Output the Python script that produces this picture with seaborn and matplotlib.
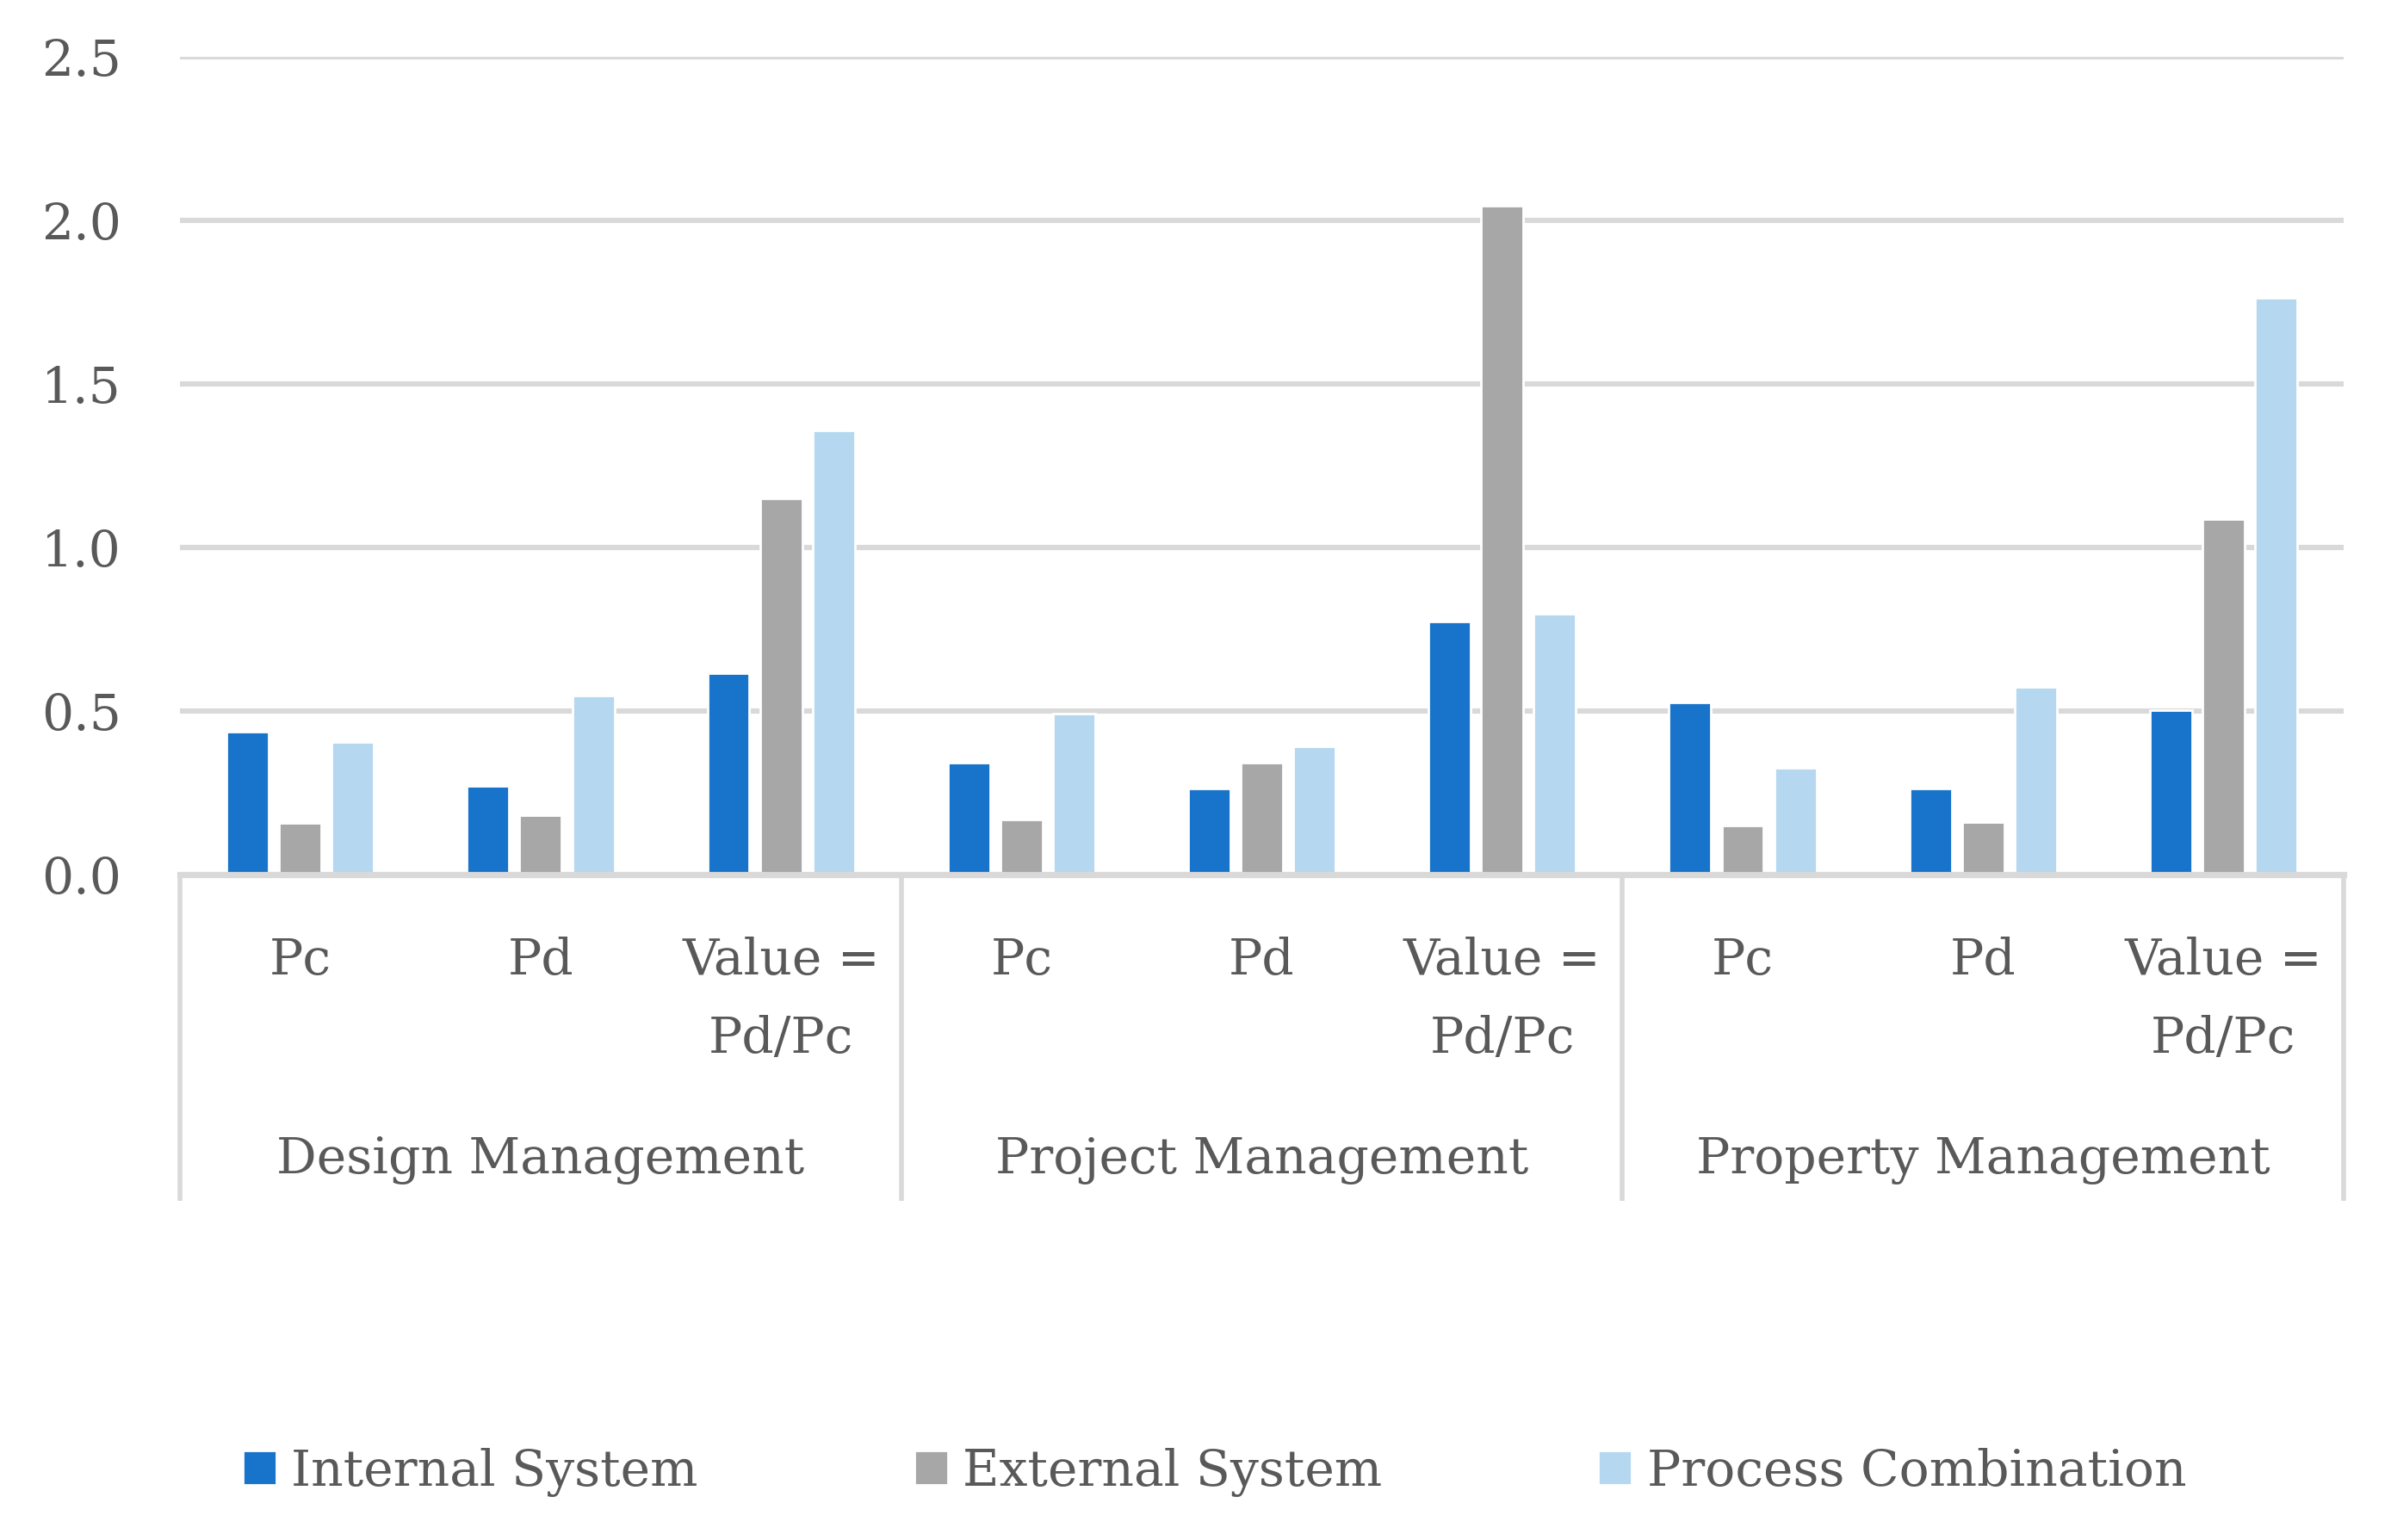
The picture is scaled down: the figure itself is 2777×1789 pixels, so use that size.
import pandas as pd
import seaborn as sns
import matplotlib.pyplot as plt
from matplotlib.ticker import FormatStrFormatter

# ===== data =====
groups = ["Design Management", "Project Management", "Property Management"]
metrics = ["Pc", "Pd", "Value =\nPd/Pc"]
series = ["Internal System", "External System", "Process Combination"]

internal_system = [0.438, 0.270, 0.617, 0.343, 0.264, 0.774, 0.527, 0.264, 0.503]
external_system = [0.157, 0.181, 1.151, 0.168, 0.343, 2.045, 0.149, 0.160, 1.087]
process_combination = [0.404, 0.548, 1.358, 0.491, 0.391, 0.798, 0.325, 0.574, 1.764]

y_ticks = [0.0, 0.5, 1.0, 1.5, 2.0, 2.5]
colors = ["#1874CA", "#A7A7A7", "#B5D8F0"]

# ===== long table for seaborn =====
slots = [f"{g}|{m}" for g in groups for m in metrics]
rows = []
for name, values in zip(series, [internal_system, external_system, process_combination]):
    for slot, v in zip(slots, values):
        rows.append({"slot": slot, "series": name, "value": v})
df = pd.DataFrame(rows)

sns.set_theme(style="white")
plt.rcParams["font.family"] = ["DejaVu Serif"]
text_color = "#595959"
grid_color = "#D9D9D9"
fs = 21

fig = plt.figure(figsize=(13.885, 8.945), dpi=200)
ax = fig.add_axes([0.0753, 0.4321, 0.9049, 0.5310])

sns.barplot(data=df, x="slot", y="value", hue="series", order=slots, hue_order=series,
            palette=colors, saturation=1, width=0.657, gap=0.2, ax=ax)

handles, labels = ax.get_legend_handles_labels()
ax.get_legend().remove()

ax.set_xlim(-0.5, len(slots) - 0.5)
ax.set_ylim(y_ticks[0], y_ticks[-1])
ax.set_yticks(y_ticks)
ax.yaxis.set_major_formatter(FormatStrFormatter("%.1f"))
ax.set_xlabel("")
ax.set_ylabel("")

ax.yaxis.grid(True, color=grid_color, linewidth=2.2)
ax.set_axisbelow(True)
for side in ["left", "right", "top"]:
    ax.spines[side].set_visible(False)
ax.spines["bottom"].set_color(grid_color)
ax.spines["bottom"].set_linewidth(2.6)

ax.set_xticks(range(len(slots)))
ax.set_xticklabels([s.split("|")[1] for s in slots], linespacing=1.78)
ax.tick_params(axis="x", length=0, pad=26, labelsize=fs, labelcolor=text_color)
ax.tick_params(axis="y", length=0, pad=24.5, labelsize=fs, labelcolor=text_color)

# group separators and group labels below the axis
trans = ax.get_xaxis_transform()
for k in range(len(groups) + 1):
    x = k * len(metrics) - 0.5
    ax.plot([x, x], [0, -0.399], transform=trans, color=grid_color, linewidth=2.0,
            clip_on=False, solid_capstyle="butt")
for k, g in enumerate(groups):
    ax.text(k * len(metrics) + 1, -0.350, g, transform=trans, ha="center", va="center",
            fontsize=fs, color=text_color)

fig.legend(handles, labels, loc="center", bbox_to_anchor=(0.508, 0.044), ncol=3,
           frameon=False, fontsize=fs, handlelength=0.67, handleheight=0.67,
           handletextpad=0.3, columnspacing=4.3, labelcolor=text_color)

fig.savefig("out.png", dpi=200, facecolor="white")
